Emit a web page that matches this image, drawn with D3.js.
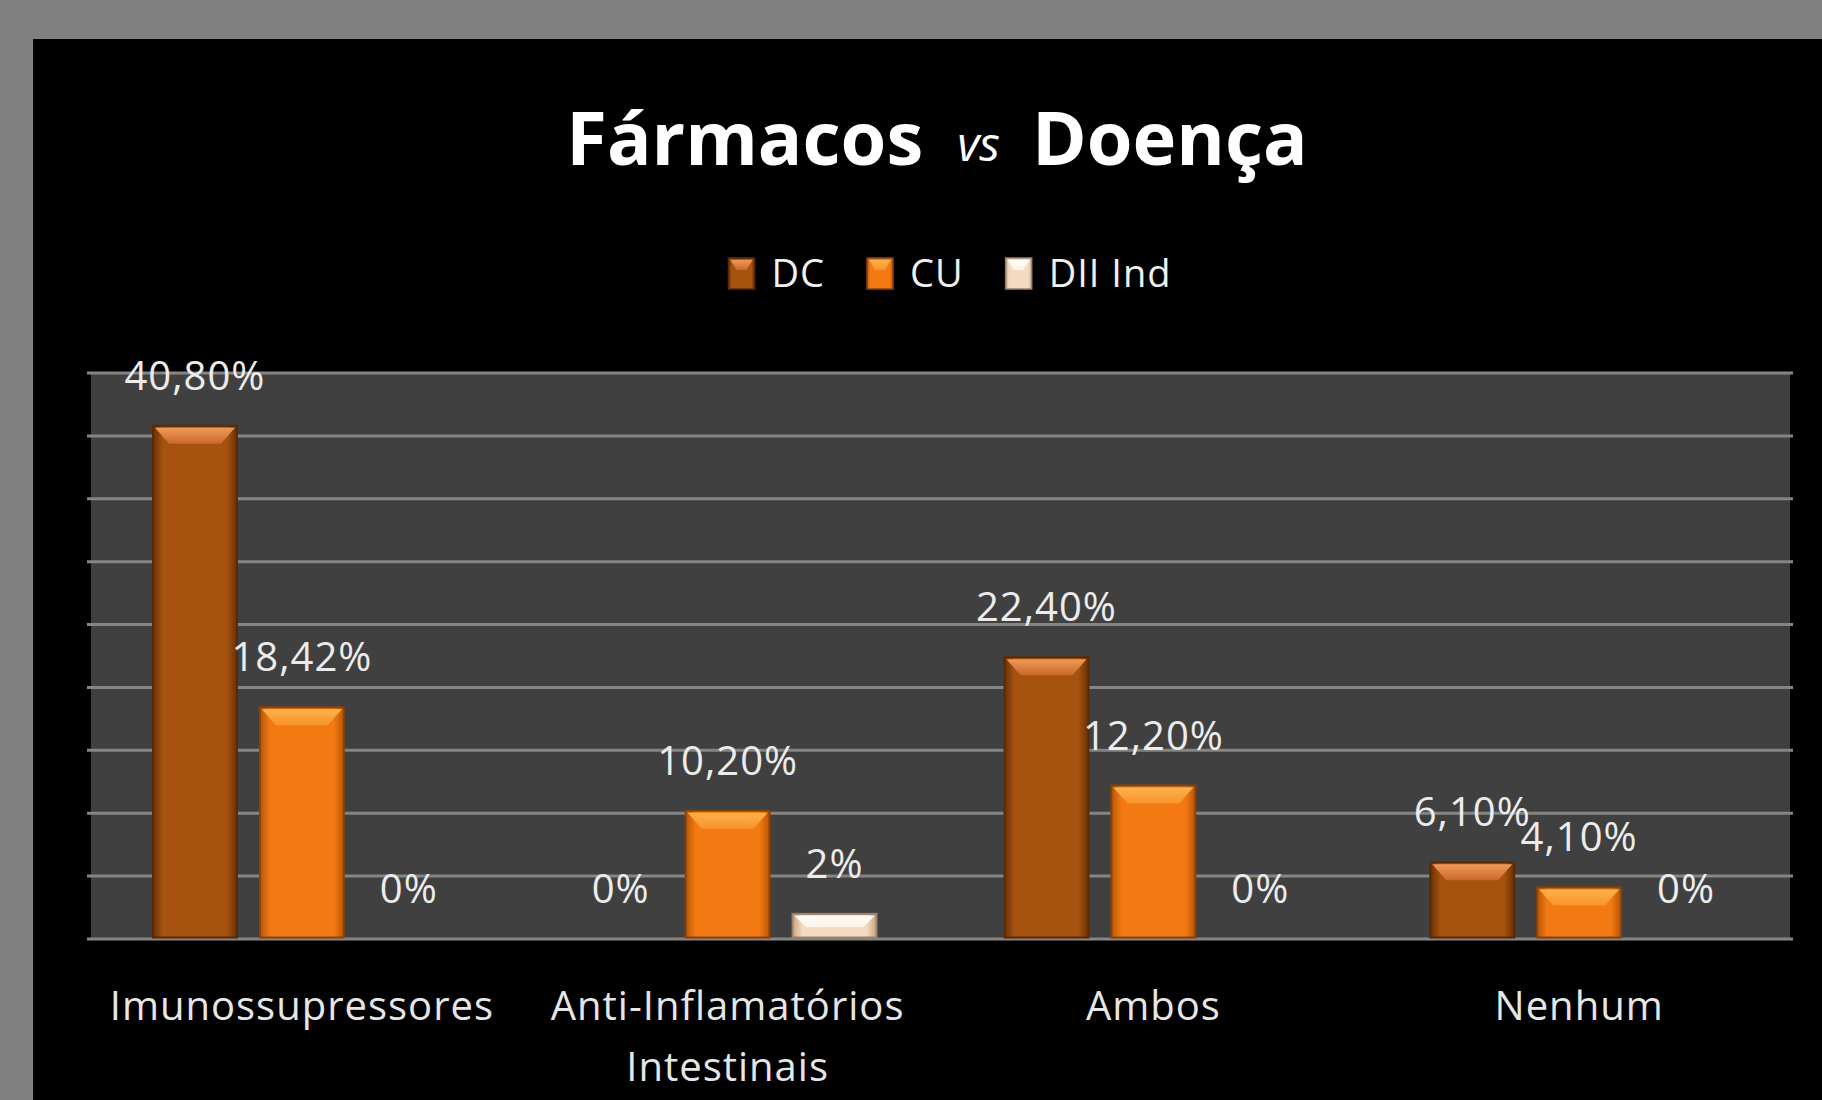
<!DOCTYPE html>
<html>
<head>
<meta charset="utf-8">
<script src="https://cdn.jsdelivr.net/npm/d3@7"></script>
<style>
  body { margin: 0; background: #808080; }
  svg { display: block; }
</style>
</head>
<body>
<div id="chart"></div>
<script>
// data
var categories = ["Imunossupressores", "Anti-Inflamatórios Intestinais", "Ambos", "Nenhum"];
var seriesNames = ["DC", "CU", "DII Ind"];
var dcValues = [40.8, 0, 22.4, 6.1];
var cuValues = [18.42, 10.2, 12.2, 4.1];
var diiValues = [0, 2, 0, 0];
var dcLabels = ["40,80%", "0%", "22,40%", "6,10%"];
var cuLabels = ["18,42%", "10,20%", "12,20%", "4,10%"];
var diiLabels = ["0%", "2%", "0%", "0%"];
var yTicks = [0, 5, 10, 15, 20, 25, 30, 35, 40, 45];

var W = 1822, H = 1100;
var plot = { left: 89, right: 1792, top: 373, bottom: 939 };
var font = "'Open Sans', 'Noto Sans', sans-serif";

var svg = d3.select("#chart").append("svg")
    .attr("width", W)
    .attr("height", H);

// gradients for the bevelled bars
var defs = svg.append("defs");
var looks = {
  "DC":      { edge: "#6a3005", mid: "#a5530f", bevel: "#f09a58", bevel2: "#c8692a", line: "#5a2a06" },
  "CU":      { edge: "#b85506", mid: "#f37a12", bevel: "#ffb24c", bevel2: "#f8922a", line: "#8a4208" },
  "DII Ind": { edge: "#c9a582", mid: "#f3dbc2", bevel: "#fffcf6", bevel2: "#fff4e6", line: "#9c8068" }
};
seriesNames.forEach(function (s, i) {
  var g = defs.append("linearGradient").attr("id", "grad" + i)
      .attr("x1", "0%").attr("x2", "100%").attr("y1", "0%").attr("y2", "0%");
  g.append("stop").attr("offset", "0%").attr("stop-color", looks[s].edge);
  g.append("stop").attr("offset", "12%").attr("stop-color", looks[s].mid);
  g.append("stop").attr("offset", "88%").attr("stop-color", looks[s].mid);
  g.append("stop").attr("offset", "100%").attr("stop-color", looks[s].edge);
  var b = defs.append("linearGradient").attr("id", "bev" + i)
      .attr("x1", "0%").attr("x2", "0%").attr("y1", "0%").attr("y2", "100%");
  b.append("stop").attr("offset", "0%").attr("stop-color", looks[s].bevel);
  b.append("stop").attr("offset", "100%").attr("stop-color", looks[s].bevel2);
});

// black chart area inside the grey frame
svg.append("rect")
    .attr("x", 33).attr("y", 39)
    .attr("width", W - 33).attr("height", H - 39)
    .attr("fill", "#000");

// title
var title = svg.append("text")
    .attr("x", 937).attr("y", 165)
    .attr("text-anchor", "middle")
    .attr("fill", "#fff")
    .style("font-family", font);
title.append("tspan").attr("font-size", 74).attr("font-weight", "bold").text("Fármacos");
title.append("tspan").attr("font-size", 48).attr("font-style", "italic").attr("dx", 34).attr("dy", -4).text("vs");
title.append("tspan").attr("font-size", 74).attr("font-weight", "bold").attr("dx", 32).attr("dy", 4).text("Doença");

// scales
var x0 = d3.scaleBand().domain(categories).range([plot.left, plot.right]).padding(0);
var x1 = d3.scaleBand().domain(seriesNames)
    .range([64, x0.bandwidth() - 64]).paddingInner(0.215);
var y = d3.scaleLinear().domain([0, 45]).range([plot.bottom, plot.top]);

// plot wall + gridlines
svg.append("rect")
    .attr("x", plot.left + 2).attr("y", plot.top)
    .attr("width", plot.right - plot.left - 4).attr("height", plot.bottom - plot.top)
    .attr("fill", "#404040");

svg.append("g").selectAll("line").data(yTicks).join("line")
    .attr("x1", plot.left - 2).attr("x2", plot.right + 1)
    .attr("y1", function (d) { return y(d); })
    .attr("y2", function (d) { return y(d); })
    .attr("stroke", "#858585")
    .attr("stroke-width", 3);

// table for the bars
var table = categories.map(function (c, i) {
  return {
    cat: c,
    vals: [
      { s: "DC", k: 0, v: dcValues[i], label: dcLabels[i] },
      { s: "CU", k: 1, v: cuValues[i], label: cuLabels[i] },
      { s: "DII Ind", k: 2, v: diiValues[i], label: diiLabels[i] }
    ]
  };
});

var groups = svg.append("g").selectAll("g").data(table).join("g")
    .attr("transform", function (d) { return "translate(" + x0(d.cat) + ",0)"; });

var bars = groups.selectAll("g.bar")
    .data(function (d) { return d.vals.filter(function (v) { return v.v > 0; }); })
    .join("g").attr("class", "bar");

bars.append("rect")
    .attr("x", function (d) { return x1(d.s); })
    .attr("y", function (d) { return y(d.v); })
    .attr("width", x1.bandwidth())
    .attr("height", function (d) { return y(0) - y(d.v) - 1.5; })
    .attr("fill", function (d) { return "url(#grad" + d.k + ")"; })
    .attr("stroke", function (d) { return looks[d.s].line; })
    .attr("stroke-width", 2);

bars.append("path")
    .attr("d", function (d) {
      var bx = x1(d.s) + 2, bw = x1.bandwidth() - 4, top = y(d.v) + 2;
      var h = Math.min(16, (y(0) - y(d.v)) * 0.45);
      var inset = Math.min(14, h);
      return "M" + bx + "," + top + "H" + (bx + bw) +
        "L" + (bx + bw - inset) + "," + (top + h) + "H" + (bx + inset) + "Z";
    })
    .attr("fill", function (d) { return "url(#bev" + d.k + ")"; });

// value labels (also for the zero values)
groups.selectAll("text.val")
    .data(function (d) { return d.vals; })
    .join("text").attr("class", "val")
    .attr("x", function (d) { return x1(d.s) + x1.bandwidth() / 2; })
    .attr("y", function (d) { return y(d.v) - 36; })
    .attr("text-anchor", "middle")
    .attr("fill", "#ececec")
    .attr("font-size", 40)
    .attr("letter-spacing", 1)
    .style("font-family", font)
    .text(function (d) { return d.label; });

// category axis
var xAxis = svg.append("g")
    .attr("transform", "translate(0," + plot.bottom + ")")
    .call(d3.axisBottom(x0).tickSize(0).tickPadding(0));
xAxis.select(".domain").remove();
xAxis.selectAll(".tick text")
    .attr("fill", "#e6e6e6")
    .attr("font-size", 40)
    .attr("letter-spacing", 1)
    .style("font-family", font)
    .attr("y", 81)
    .attr("dy", 0)
    .each(function (d) {
      var t = d3.select(this);
      t.text(d);
      if (this.getComputedTextLength() > x0.bandwidth() - 20) {
        var words = d.split(" ");
        t.text(null);
        words.forEach(function (w, i) {
          t.append("tspan").attr("x", 0).attr("dy", i === 0 ? 0 : 61).text(w);
        });
      }
    });

// legend
var legend = svg.append("g");
var lx = 0;
seriesNames.forEach(function (s, i) {
  var item = legend.append("g").attr("transform", "translate(" + lx + ",0)");
  item.append("rect")
      .attr("x", 0).attr("y", 258).attr("width", 26).attr("height", 31)
      .attr("fill", "url(#grad" + i + ")")
      .attr("stroke", looks[s].line).attr("stroke-width", 1.5);
  item.append("path")
      .attr("d", "M2,260H24L18,270H8Z")
      .attr("fill", "url(#bev" + i + ")");
  var t = item.append("text")
      .attr("x", 43).attr("y", 287)
      .attr("fill", "#f0f0f0")
      .attr("font-size", 38)
      .attr("letter-spacing", 1)
      .style("font-family", font)
      .text(s);
  lx += 43 + t.node().getComputedTextLength() + 42;
});
var lw = lx - 42;
legend.attr("transform", "translate(" + (950 - lw / 2) + ",0)");
</script>
</body>
</html>
